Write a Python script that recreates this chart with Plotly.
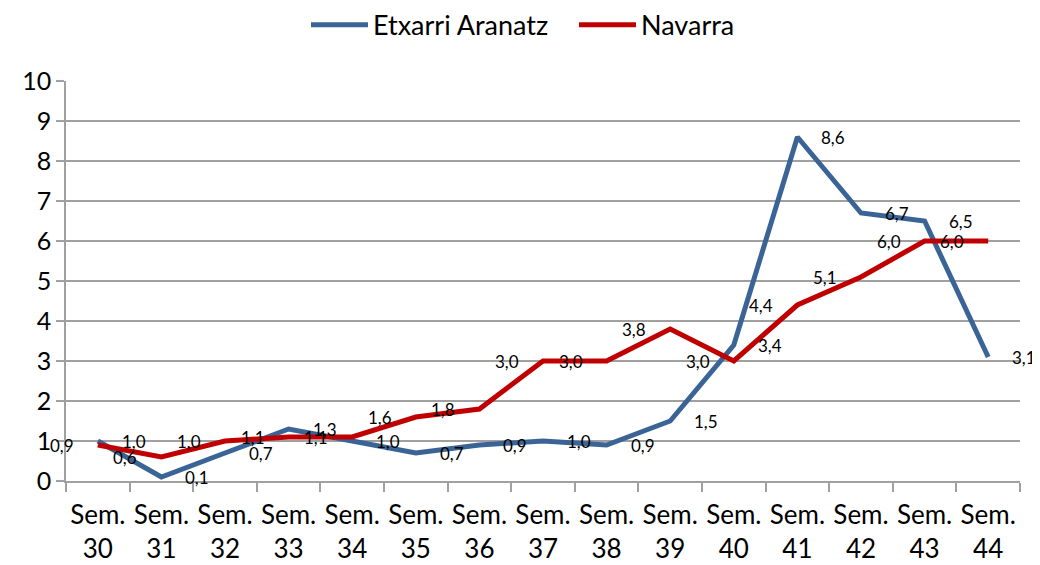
import plotly.graph_objects as go

week_numbers = [30, 31, 32, 33, 34, 35, 36, 37, 38, 39, 40, 41, 42, 43, 44]
categories = [f"Sem.<br>{n}" for n in week_numbers]

etxarri = [1.0, 0.1, 0.7, 1.3, 1.0, 0.7, 0.9, 1.0, 0.9, 1.5, 3.4, 8.6, 6.7, 6.5, 3.1]
navarra = [0.9, 0.6, 1.0, 1.1, 1.1, 1.6, 1.8, 3.0, 3.0, 3.8, 3.0, 4.4, 5.1, 6.0, 6.0]

y_ticks = [0, 1, 2, 3, 4, 5, 6, 7, 8, 9, 10]


def fmt(v):
    return f"{v:.1f}".replace(".", ",")


FONT = "Lato, Carlito, Calibri, sans-serif"
BLUE = "#3B6496"
RED = "#C00000"
GRID = "#A0A0A0"
LABEL_SIZE = 17
LABEL_SHIFT = 36

fig = go.Figure()
fig.add_trace(go.Scatter(
    x=categories, y=etxarri, name="Etxarri Aranatz",
    mode="lines", line=dict(color=BLUE, width=5),
))
fig.add_trace(go.Scatter(
    x=categories, y=navarra, name="Navarra",
    mode="lines", line=dict(color=RED, width=5),
))

annotations = []
for cat, v in zip(categories, etxarri):
    annotations.append(dict(x=cat, y=v, xref="x", yref="y", text=fmt(v),
                            showarrow=False, xshift=LABEL_SHIFT,
                            font=dict(family=FONT, size=LABEL_SIZE, color="#000000")))
for cat, v in zip(categories, navarra):
    annotations.append(dict(x=cat, y=v, xref="x", yref="y", text=fmt(v),
                            showarrow=False, xshift=-LABEL_SHIFT,
                            font=dict(family=FONT, size=LABEL_SIZE, color="#000000")))

fig.update_layout(
    width=1032, height=557,
    margin=dict(l=58, r=20, t=73, b=84),
    paper_bgcolor="white", plot_bgcolor="white",
    font=dict(family=FONT, size=25, color="#000000"),
    showlegend=True,
    legend=dict(orientation="h", xref="container", yref="container",
                x=298 / 1032, xanchor="left", y=0.969, yanchor="middle",
                font=dict(size=27), traceorder="normal",
                itemwidth=57, entrywidth=196, entrywidthmode="pixels"),
    annotations=annotations,
    xaxis=dict(
        type="category", range=[-0.5, len(categories) - 0.5],
        showgrid=False, showline=True, linecolor=GRID, linewidth=1.5,
        ticks="outside", tickson="boundaries", ticklen=9, tickcolor=GRID,
        tickwidth=1.5, tickfont=dict(size=26), zeroline=False, automargin=False,
        ticklabelstandoff=10, tickangle=0,
    ),
    yaxis=dict(
        range=[0, 10], tickvals=y_ticks, ticktext=[str(t) for t in y_ticks],
        showgrid=True, gridcolor=GRID, gridwidth=1.5,
        showline=True, linecolor=GRID, linewidth=1.5,
        ticks="outside", ticklen=8, tickcolor=GRID, tickwidth=1.5,
        tickfont=dict(size=25), zeroline=False, automargin=False,
    ),
)

fig.write_html("out.html")
